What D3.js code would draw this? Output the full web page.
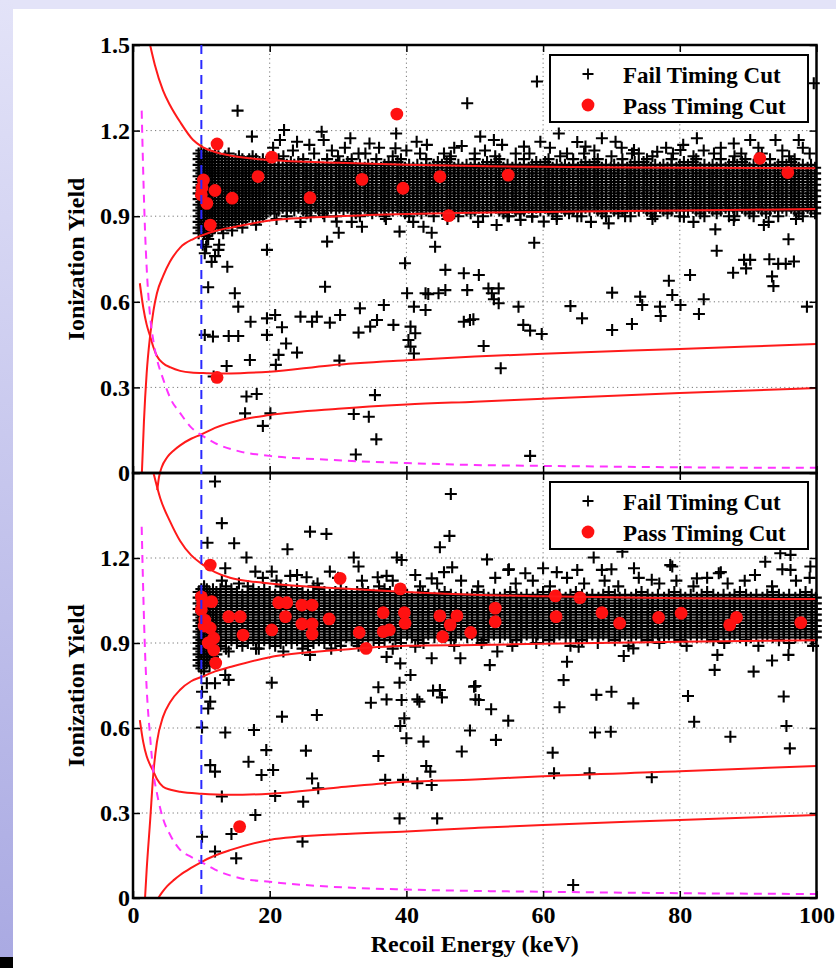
<!DOCTYPE html>
<html><head><meta charset="utf-8">
<script src="https://cdn.jsdelivr.net/npm/d3@7"></script>
<style>html,body{margin:0;padding:0;background:#fff;}svg{display:block}</style>
</head><body><svg id="c" width="836" height="968"></svg>
<script>
// ---------- DATA ----------
const xTicks = [0, 20, 40, 60, 80, 100];
const yTicksTop = [0, 0.3, 0.6, 0.9, 1.2, 1.5];
const yTicksBot = [0, 0.3, 0.6, 0.9, 1.2];
const legendLabels = ["Fail Timing Cut", "Pass Timing Cut"];
const xTitle = "Recoil Energy (keV)";
const yTitle = "Ionization Yield";
const cutEnergy = 10;

// band curves [energy keV, yield]
const erUpperTop = [[2.5,1.5],[3.2,1.43],[4.4,1.34],[5.4,1.29],[6.9,1.23],[8.8,1.167],[10,1.145],[12,1.125],[14.2,1.113],[17,1.103],[20,1.097],[30,1.087],[40,1.08],[50,1.076],[60,1.073],[80,1.07],[100,1.068]];
const erLowerTop = [[1.3,0],[1.6,0.18],[2,0.35],[2.5,0.48],[3,0.57],[3.5,0.63],[4.4,0.69],[5.4,0.74],[6.9,0.79],[8.8,0.82],[10,0.832],[12,0.848],[15,0.863],[20,0.885],[30,0.9],[40,0.908],[50,0.912],[60,0.915],[80,0.92],[100,0.925]];
const nrUpperTop = [[1.0,0.665],[1.5,0.58],[2,0.52],[2.5,0.48],[3,0.44],[3.5,0.41],[4.4,0.385],[5.5,0.37],[6.9,0.358],[8.5,0.352],[10.8,0.35],[13,0.349],[15.7,0.35],[20,0.355],[28.8,0.377],[40,0.395],[50,0.408],[60,0.418],[80,0.435],[100,0.452]];
const nrLowerTop = [[3.55,-0.06],[3.8,-0.015],[4.2,0.02],[5,0.055],[6,0.08],[6.9,0.097],[8.5,0.12],[10,0.135],[12,0.158],[15.7,0.186],[20,0.203],[30,0.225],[40,0.24],[50,0.25],[60,0.26],[80,0.28],[100,0.298]];
const magentaTop = [[1.27,1.27],[1.5,1.05],[1.76,0.85],[2,0.72],[2.5,0.55],[3,0.46],[3.5,0.4],[4.4,0.33],[5.5,0.26],[6.9,0.21],[8.5,0.16],[10,0.133],[12,0.105],[15.7,0.075],[20,0.06],[28.8,0.046],[40,0.035],[50,0.028],[60,0.025],[80,0.02],[100,0.018]];

const erUpperBot = [[3,1.5],[4,1.41],[5.4,1.33],[6.9,1.26],[8.5,1.21],[10,1.18],[12,1.15],[14.2,1.13],[17,1.118],[20,1.11],[30,1.093],[40,1.08],[50,1.07],[60,1.065],[80,1.058],[100,1.055]];
const erLowerBot = [[1.76,0],[2,0.1],[2.5,0.27],[3,0.446],[3.5,0.55],[4.4,0.64],[5.4,0.69],[6.9,0.735],[8.5,0.765],[10,0.78],[12,0.8],[14.2,0.815],[20,0.85],[30,0.875],[40,0.89],[50,0.893],[60,0.897],[80,0.904],[100,0.91]];
const nrUpperBot = [[1,0.628],[1.5,0.55],[2,0.5],[2.5,0.47],[3,0.446],[3.5,0.42],[4.4,0.393],[5.5,0.382],[6.9,0.375],[10,0.368],[14.2,0.364],[20,0.368],[30,0.39],[40,0.41],[50,0.418],[60,0.43],[80,0.447],[100,0.466]];
const nrLowerBot = [[3.7,0],[4.2,0.018],[5,0.042],[6,0.064],[6.9,0.081],[8.5,0.106],[10,0.127],[12,0.15],[14.2,0.169],[20,0.205],[30,0.225],[40,0.235],[50,0.247],[60,0.258],[80,0.275],[100,0.293]];
const magentaBot = [[1.27,1.31],[1.5,1.08],[1.76,0.87],[2,0.74],[2.5,0.57],[3,0.44],[3.5,0.37],[4.4,0.28],[5.5,0.22],[6.9,0.17],[8.5,0.145],[10,0.127],[12,0.1],[15.7,0.07],[20,0.057],[28.8,0.04],[40,0.03],[50,0.025],[60,0.022],[80,0.017],[100,0.014]];

// dense electron-recoil band (fail timing cut): [energy column, yields]
const topBand = [
[9.6,[0.84,0.86,0.88,0.9,0.92,0.94,0.96,0.98,1.0,1.02,1.04,1.06,1.08,1.1,1.12]],
[10.0,[0.85,0.87,0.89,0.91,0.93,0.95,0.97,0.99,1.01,1.03,1.05,1.07,1.09,1.11,1.13]],
[10.4,[0.84,0.86,0.88,0.9,0.92,0.94,0.96,0.98,1.0,1.02,1.04,1.06,1.08,1.1,1.12]],
[10.8,[0.83,0.85,0.87,0.89,0.91,0.93,0.95,0.97,0.99,1.01,1.03,1.05,1.07,1.09,1.11]],
[11.2,[0.84,0.86,0.88,0.9,0.92,0.94,0.96,0.98,1.0,1.02,1.04,1.06,1.08,1.1,1.12]],
[11.6,[0.85,0.87,0.89,0.91,0.93,0.95,0.97,0.99,1.01,1.03,1.05,1.07,1.09,1.11]],
[12.0,[0.86,0.88,0.9,0.92,0.94,0.96,0.98,1.0,1.02,1.04,1.06,1.08,1.1,1.12]],
[12.5,[0.87,0.89,0.91,0.93,0.95,0.97,0.99,1.01,1.03,1.05,1.07,1.09,1.11]],
[13.0,[0.86,0.88,0.9,0.92,0.94,0.96,0.98,1.0,1.02,1.04,1.06,1.08,1.1]],
[13.5,[0.87,0.89,0.91,0.93,0.95,0.97,0.99,1.01,1.03,1.05,1.07,1.09,1.11]],
[14.0,[0.88,0.9,0.92,0.94,0.96,0.98,1.0,1.02,1.04,1.06,1.08,1.1,1.12]],
[14.5,[0.87,0.89,0.91,0.93,0.95,0.97,0.99,1.01,1.03,1.05,1.07,1.09]],
[15.0,[0.88,0.9,0.92,0.94,0.96,0.98,1.0,1.02,1.04,1.06,1.08,1.1]],
[15.5,[0.89,0.91,0.93,0.95,0.97,0.99,1.01,1.03,1.05,1.07,1.09,1.11]],
[16.0,[0.88,0.9,0.92,0.94,0.96,0.98,1.0,1.02,1.04,1.06,1.08,1.1]],
[16.5,[0.89,0.91,0.93,0.95,0.97,0.99,1.01,1.03,1.05,1.07,1.09]],
[17.0,[0.9,0.92,0.94,0.96,0.98,1.0,1.02,1.04,1.06,1.08,1.1]],
[17.5,[0.89,0.91,0.93,0.95,0.97,0.99,1.01,1.03,1.05,1.07,1.09,1.11]],
[18.0,[0.9,0.92,0.94,0.96,0.98,1.0,1.02,1.04,1.06,1.08,1.1]],
[18.5,[0.89,0.91,0.93,0.95,0.97,0.99,1.01,1.03,1.05,1.07,1.09]],
[19.0,[0.9,0.92,0.94,0.96,0.98,1.0,1.02,1.04,1.06,1.08,1.1]],
[19.5,[0.91,0.93,0.95,0.97,0.99,1.01,1.03,1.05,1.07,1.09]],
[20.1,[0.92,0.94,0.96,0.98,1.0,1.02,1.04,1.06,1.08]],
[20.7,[0.91,0.93,0.95,0.97,0.99,1.01,1.03,1.05,1.07]],
[21.3,[0.92,0.94,0.96,0.98,1.0,1.02,1.04,1.06,1.08,1.1]],
[21.9,[0.93,0.95,0.97,0.99,1.01,1.03,1.05,1.07]],
[22.5,[0.9,0.92,0.94,0.96,0.98,1.0,1.02,1.04,1.06,1.08]],
[23.1,[0.93,0.95,0.97,0.99,1.01,1.03,1.05,1.07,1.09]],
[23.6,[0.92,0.94,0.96,0.98,1.0,1.02,1.04,1.06,1.08]],
[24.2,[0.93,0.95,0.97,0.99,1.01,1.03,1.05,1.07,1.09]],
[24.9,[0.92,0.94,0.96,0.98,1.0,1.02,1.04,1.06,1.08,1.1]],
[25.4,[0.91,0.93,0.95,0.97,0.99,1.01,1.03,1.05,1.07]],
[26.0,[0.9,0.92,0.94,0.96,0.98,1.0,1.02,1.04,1.06,1.08]],
[26.7,[0.93,0.95,0.97,0.99,1.01,1.03,1.05,1.07]],
[27.2,[0.92,0.94,0.96,0.98,1.0,1.02,1.04,1.06,1.08]],
[27.8,[0.91,0.93,0.95,0.97,0.99,1.01,1.03,1.05,1.07]],
[28.4,[0.92,0.94,0.96,0.98,1.0,1.02,1.04,1.06,1.08,1.1]],
[29.0,[0.93,0.95,0.97,0.99,1.01,1.03,1.05,1.07]],
[29.7,[0.9,0.92,0.94,0.96,0.98,1.0,1.02,1.04,1.06,1.08]],
[30.2,[0.93,0.95,0.97,0.99,1.01,1.03,1.05,1.07,1.09]],
[30.8,[0.92,0.94,0.96,0.98,1.0,1.02,1.04,1.06,1.08]],
[31.4,[0.93,0.95,0.97,0.99,1.01,1.03,1.05,1.07,1.09]],
[32.0,[0.92,0.94,0.96,0.98,1.0,1.02,1.04,1.06,1.08,1.1]],
[32.6,[0.91,0.93,0.95,0.97,0.99,1.01,1.03,1.05,1.07]],
[33.2,[0.9,0.92,0.94,0.96,0.98,1.0,1.02,1.04,1.06,1.08]],
[33.9,[0.93,0.95,0.97,0.99,1.01,1.03,1.05,1.07]],
[34.4,[0.92,0.94,0.96,0.98,1.0,1.02,1.04,1.06,1.08]],
[35.0,[0.91,0.93,0.95,0.97,0.99,1.01,1.03,1.05,1.07]],
[35.6,[0.92,0.94,0.96,0.98,1.0,1.02,1.04,1.06,1.08,1.1]],
[36.3,[0.93,0.95,0.97,0.99,1.01,1.03,1.05,1.07]],
[36.8,[0.9,0.92,0.94,0.96,0.98,1.0,1.02,1.04,1.06,1.08]],
[37.4,[0.93,0.95,0.97,0.99,1.01,1.03,1.05,1.07,1.09]],
[38.0,[0.92,0.94,0.96,0.98,1.0,1.02,1.04,1.06,1.08]],
[38.7,[0.93,0.95,0.97,0.99,1.01,1.03,1.05,1.07,1.09]],
[39.2,[0.92,0.94,0.96,0.98,1.0,1.02,1.04,1.06,1.08,1.1]],
[39.8,[0.91,0.93,0.95,0.97,0.99,1.01,1.03,1.05,1.07]],
[40.4,[0.9,0.92,0.94,0.96,0.98,1.0,1.02,1.04,1.06,1.08]],
[41.0,[0.93,0.95,0.97,0.99,1.01,1.03,1.05,1.07]],
[41.6,[0.92,0.94,0.96,0.98,1.0,1.02,1.04,1.06,1.08]],
[42.2,[0.91,0.93,0.95,0.97,0.99,1.01,1.03,1.05,1.07]],
[42.9,[0.92,0.94,0.96,0.98,1.0,1.02,1.04,1.06,1.08,1.1]],
[43.4,[0.93,0.95,0.97,0.99,1.01,1.03,1.05,1.07]],
[44.0,[0.9,0.92,0.94,0.96,0.98,1.0,1.02,1.04,1.06,1.08]],
[44.6,[0.93,0.95,0.97,0.99,1.01,1.03,1.05,1.07,1.09]],
[45.2,[0.92,0.94,0.96,0.98,1.0,1.02,1.04,1.06,1.08]],
[45.9,[0.93,0.95,0.97,0.99,1.01,1.03,1.05,1.07,1.09]],
[46.4,[0.92,0.94,0.96,0.98,1.0,1.02,1.04,1.06,1.08,1.1]],
[47.0,[0.91,0.93,0.95,0.97,0.99,1.01,1.03,1.05,1.07]],
[47.6,[0.9,0.92,0.94,0.96,0.98,1.0,1.02,1.04,1.06,1.08]],
[48.2,[0.93,0.95,0.97,0.99,1.01,1.03,1.05,1.07]],
[48.8,[0.92,0.94,0.96,0.98,1.0,1.02,1.04,1.06,1.08]],
[49.4,[0.91,0.93,0.95,0.97,0.99,1.01,1.03,1.05,1.07]],
[50.0,[0.92,0.94,0.96,0.98,1.0,1.02,1.04,1.06,1.08,1.1]],
[50.6,[0.93,0.95,0.97,0.99,1.01,1.03,1.05,1.07]],
[51.2,[0.9,0.92,0.94,0.96,0.98,1.0,1.02,1.04,1.06,1.08]],
[51.8,[0.93,0.95,0.97,0.99,1.01,1.03,1.05,1.07,1.09]],
[52.4,[0.92,0.94,0.96,0.98,1.0,1.02,1.04,1.06,1.08]],
[53.1,[0.93,0.95,0.97,0.99,1.01,1.03,1.05,1.07,1.09]],
[53.6,[0.92,0.94,0.96,0.98,1.0,1.02,1.04,1.06,1.08,1.1]],
[54.2,[0.91,0.93,0.95,0.97,0.99,1.01,1.03,1.05,1.07]],
[54.8,[0.9,0.92,0.94,0.96,0.98,1.0,1.02,1.04,1.06,1.08]],
[55.5,[0.93,0.95,0.97,0.99,1.01,1.03,1.05,1.07]],
[56.0,[0.92,0.94,0.96,0.98,1.0,1.02,1.04,1.06,1.08]],
[56.6,[0.91,0.93,0.95,0.97,0.99,1.01,1.03,1.05,1.07]],
[57.2,[0.92,0.94,0.96,0.98,1.0,1.02,1.04,1.06,1.08,1.1]],
[57.9,[0.93,0.95,0.97,0.99,1.01,1.03,1.05,1.07]],
[58.4,[0.9,0.92,0.94,0.96,0.98,1.0,1.02,1.04,1.06,1.08]],
[59.0,[0.93,0.95,0.97,0.99,1.01,1.03,1.05,1.07,1.09]],
[59.6,[0.92,0.94,0.96,0.98,1.0,1.02,1.04,1.06,1.08]],
[60.3,[0.93,0.95,0.97,0.99,1.01,1.03,1.05,1.07,1.09]],
[60.8,[0.92,0.94,0.96,0.98,1.0,1.02,1.04,1.06,1.08,1.1]],
[61.4,[0.91,0.93,0.95,0.97,0.99,1.01,1.03,1.05,1.07]],
[62.0,[0.9,0.92,0.94,0.96,0.98,1.0,1.02,1.04,1.06,1.08]],
[62.7,[0.93,0.95,0.97,0.99,1.01,1.03,1.05,1.07]],
[63.2,[0.92,0.94,0.96,0.98,1.0,1.02,1.04,1.06,1.08]],
[63.8,[0.91,0.93,0.95,0.97,0.99,1.01,1.03,1.05,1.07]],
[64.4,[0.92,0.94,0.96,0.98,1.0,1.02,1.04,1.06,1.08,1.1]],
[65.1,[0.93,0.95,0.97,0.99,1.01,1.03,1.05,1.07]],
[65.6,[0.9,0.92,0.94,0.96,0.98,1.0,1.02,1.04,1.06,1.08]],
[66.2,[0.93,0.95,0.97,0.99,1.01,1.03,1.05,1.07,1.09]],
[66.8,[0.92,0.94,0.96,0.98,1.0,1.02,1.04,1.06,1.08]],
[67.5,[0.93,0.95,0.97,0.99,1.01,1.03,1.05,1.07,1.09]],
[68.0,[0.92,0.94,0.96,0.98,1.0,1.02,1.04,1.06,1.08,1.1]],
[68.6,[0.91,0.93,0.95,0.97,0.99,1.01,1.03,1.05,1.07]],
[69.2,[0.9,0.92,0.94,0.96,0.98,1.0,1.02,1.04,1.06,1.08]],
[69.9,[0.93,0.95,0.97,0.99,1.01,1.03,1.05,1.07]],
[70.4,[0.92,0.94,0.96,0.98,1.0,1.02,1.04,1.06,1.08]],
[71.0,[0.91,0.93,0.95,0.97,0.99,1.01,1.03,1.05,1.07]],
[71.6,[0.92,0.94,0.96,0.98,1.0,1.02,1.04,1.06,1.08,1.1]],
[72.3,[0.93,0.95,0.97,0.99,1.01,1.03,1.05,1.07]],
[72.8,[0.9,0.92,0.94,0.96,0.98,1.0,1.02,1.04,1.06,1.08]],
[73.4,[0.93,0.95,0.97,0.99,1.01,1.03,1.05,1.07,1.09]],
[74.0,[0.92,0.94,0.96,0.98,1.0,1.02,1.04,1.06,1.08]],
[74.7,[0.93,0.95,0.97,0.99,1.01,1.03,1.05,1.07,1.09]],
[75.2,[0.92,0.94,0.96,0.98,1.0,1.02,1.04,1.06,1.08,1.1]],
[75.8,[0.91,0.93,0.95,0.97,0.99,1.01,1.03,1.05,1.07]],
[76.4,[0.9,0.92,0.94,0.96,0.98,1.0,1.02,1.04,1.06,1.08]],
[77.1,[0.93,0.95,0.97,0.99,1.01,1.03,1.05,1.07]],
[77.6,[0.92,0.94,0.96,0.98,1.0,1.02,1.04,1.06,1.08]],
[78.2,[0.91,0.93,0.95,0.97,0.99,1.01,1.03,1.05,1.07]],
[78.8,[0.92,0.94,0.96,0.98,1.0,1.02,1.04,1.06,1.08,1.1]],
[79.5,[0.93,0.95,0.97,0.99,1.01,1.03,1.05,1.07]],
[80.0,[0.9,0.92,0.94,0.96,0.98,1.0,1.02,1.04,1.06,1.08]],
[80.6,[0.93,0.95,0.97,0.99,1.01,1.03,1.05,1.07,1.09]],
[81.2,[0.92,0.94,0.96,0.98,1.0,1.02,1.04,1.06,1.08]],
[81.9,[0.93,0.95,0.97,0.99,1.01,1.03,1.05,1.07,1.09]],
[82.4,[0.92,0.94,0.96,0.98,1.0,1.02,1.04,1.06,1.08,1.1]],
[83.0,[0.91,0.93,0.95,0.97,0.99,1.01,1.03,1.05,1.07]],
[83.6,[0.9,0.92,0.94,0.96,0.98,1.0,1.02,1.04,1.06,1.08]],
[84.3,[0.93,0.95,0.97,0.99,1.01,1.03,1.05,1.07]],
[84.8,[0.92,0.94,0.96,0.98,1.0,1.02,1.04,1.06,1.08]],
[85.4,[0.91,0.93,0.95,0.97,0.99,1.01,1.03,1.05,1.07]],
[86.0,[0.92,0.94,0.96,0.98,1.0,1.02,1.04,1.06,1.08,1.1]],
[86.7,[0.93,0.95,0.97,0.99,1.01,1.03,1.05,1.07]],
[87.2,[0.9,0.92,0.94,0.96,0.98,1.0,1.02,1.04,1.06,1.08]],
[87.8,[0.93,0.95,0.97,0.99,1.01,1.03,1.05,1.07,1.09]],
[88.4,[0.92,0.94,0.96,0.98,1.0,1.02,1.04,1.06,1.08]],
[89.1,[0.93,0.95,0.97,0.99,1.01,1.03,1.05,1.07,1.09]],
[89.6,[0.92,0.94,0.96,0.98,1.0,1.02,1.04,1.06,1.08,1.1]],
[90.2,[0.91,0.93,0.95,0.97,0.99,1.01,1.03,1.05,1.07]],
[90.8,[0.9,0.92,0.94,0.96,0.98,1.0,1.02,1.04,1.06,1.08]],
[91.5,[0.93,0.95,0.97,0.99,1.01,1.03,1.05,1.07]],
[92.0,[0.92,0.94,0.96,0.98,1.0,1.02,1.04,1.06,1.08]],
[92.6,[0.91,0.93,0.95,0.97,0.99,1.01,1.03,1.05,1.07]],
[93.2,[0.92,0.94,0.96,0.98,1.0,1.02,1.04,1.06,1.08,1.1]],
[93.9,[0.93,0.95,0.97,0.99,1.01,1.03,1.05,1.07]],
[94.4,[0.9,0.92,0.94,0.96,0.98,1.0,1.02,1.04,1.06,1.08]],
[95.0,[0.93,0.95,0.97,0.99,1.01,1.03,1.05,1.07,1.09]],
[95.6,[0.92,0.94,0.96,0.98,1.0,1.02,1.04,1.06,1.08]],
[96.3,[0.93,0.95,0.97,0.99,1.01,1.03,1.05,1.07,1.09]],
[96.8,[0.92,0.94,0.96,0.98,1.0,1.02,1.04,1.06,1.08,1.1]],
[97.4,[0.91,0.93,0.95,0.97,0.99,1.01,1.03,1.05,1.07]],
[98.0,[0.9,0.92,0.94,0.96,0.98,1.0,1.02,1.04,1.06,1.08]],
[98.7,[0.93,0.95,0.97,0.99,1.01,1.03,1.05,1.07]],
[99.2,[0.92,0.94,0.96,0.98,1.0,1.02,1.04,1.06,1.08]],
[99.8,[0.91,0.93,0.95,0.97,0.99,1.01,1.03,1.05,1.07]]
];

const botBand = [
[9.6,[0.82,0.84,0.86,0.88,0.9,0.92,0.94,0.96,0.98,1.0,1.02,1.04,1.06,1.08]],
[10.0,[0.81,0.83,0.85,0.87,0.89,0.91,0.93,0.95,0.97,0.99,1.01,1.03,1.05,1.07,1.09]],
[10.4,[0.8,0.82,0.84,0.86,0.88,0.9,0.92,0.94,0.96,0.98,1.0,1.02,1.04,1.06,1.08,1.1]],
[10.8,[0.83,0.85,0.87,0.89,0.91,0.93,0.95,0.97,0.99,1.01,1.03,1.05,1.07,1.09]],
[11.2,[0.82,0.84,0.86,0.88,0.9,0.92,0.94,0.96,0.98,1.0,1.02,1.04,1.06,1.08]],
[11.7,[0.85,0.87,0.89,0.91,0.93,0.95,0.97,0.99,1.01,1.03,1.05,1.07,1.09]],
[12.2,[0.86,0.88,0.9,0.92,0.94,0.96,0.98,1.0,1.02,1.04,1.06,1.08]],
[12.8,[0.89,0.91,0.93,0.95,0.97,0.99,1.01,1.03,1.05,1.07,1.09]],
[13.6,[0.88,0.9,0.92,0.94,0.96,0.98,1.0,1.02,1.04,1.06,1.08,1.1]],
[14.4,[0.91,0.93,0.95,0.97,0.99,1.01,1.03,1.05,1.07,1.09]],
[15.2,[0.9,0.92,0.94,0.96,0.98,1.0,1.02,1.04,1.06,1.08]],
[16.0,[0.89,0.91,0.93,0.95,0.97,0.99,1.01,1.03,1.05,1.07]],
[16.8,[0.9,0.92,0.94,0.96,0.98,1.0,1.02,1.04,1.06,1.08,1.1]],
[17.6,[0.91,0.93,0.95,0.97,0.99,1.01,1.03,1.05,1.07,1.09]],
[18.4,[0.88,0.9,0.92,0.94,0.96,0.98,1.0,1.02,1.04,1.06,1.08]],
[19.2,[0.91,0.93,0.95,0.97,0.99,1.01,1.03,1.05,1.07,1.09]],
[20.0,[0.9,0.92,0.94,0.96,0.98,1.0,1.02,1.04,1.06,1.08]],
[20.8,[0.89,0.91,0.93,0.95,0.97,0.99,1.01,1.03,1.05,1.07]],
[21.6,[0.9,0.92,0.94,0.96,0.98,1.0,1.02,1.04,1.06,1.08,1.1]],
[22.4,[0.91,0.93,0.95,0.97,0.99,1.01,1.03,1.05,1.07,1.09]],
[23.2,[0.9,0.92,0.94,0.96,0.98,1.0,1.02,1.04,1.06,1.08]],
[24.0,[0.91,0.93,0.95,0.97,0.99,1.01,1.03,1.05,1.07,1.09]],
[24.8,[0.88,0.9,0.92,0.94,0.96,0.98,1.0,1.02,1.04,1.06,1.08]],
[25.6,[0.89,0.91,0.93,0.95,0.97,0.99,1.01,1.03,1.05,1.07]],
[26.4,[0.9,0.92,0.94,0.96,0.98,1.0,1.02,1.04,1.06,1.08,1.1]],
[27.2,[0.91,0.93,0.95,0.97,0.99,1.01,1.03,1.05,1.07,1.09]],
[28.0,[0.9,0.92,0.94,0.96,0.98,1.0,1.02,1.04,1.06,1.08]],
[28.8,[0.91,0.93,0.95,0.97,0.99,1.01,1.03,1.05,1.07]],
[29.6,[0.9,0.92,0.94,0.96,0.98,1.0,1.02,1.04,1.06,1.08]],
[30.4,[0.89,0.91,0.93,0.95,0.97,0.99,1.01,1.03,1.05,1.07,1.09]],
[31.2,[0.92,0.94,0.96,0.98,1.0,1.02,1.04,1.06,1.08]],
[32.0,[0.91,0.93,0.95,0.97,0.99,1.01,1.03,1.05,1.07]],
[32.8,[0.9,0.92,0.94,0.96,0.98,1.0,1.02,1.04,1.06,1.08]],
[33.6,[0.91,0.93,0.95,0.97,0.99,1.01,1.03,1.05,1.07,1.09]],
[34.4,[0.92,0.94,0.96,0.98,1.0,1.02,1.04,1.06,1.08]],
[35.2,[0.91,0.93,0.95,0.97,0.99,1.01,1.03,1.05,1.07]],
[36.0,[0.9,0.92,0.94,0.96,0.98,1.0,1.02,1.04,1.06,1.08]],
[36.8,[0.91,0.93,0.95,0.97,0.99,1.01,1.03,1.05,1.07,1.09]],
[37.6,[0.92,0.94,0.96,0.98,1.0,1.02,1.04,1.06,1.08]],
[38.4,[0.91,0.93,0.95,0.97,0.99,1.01,1.03,1.05,1.07]],
[39.2,[0.9,0.92,0.94,0.96,0.98,1.0,1.02,1.04,1.06,1.08]],
[40.1,[0.93,0.95,0.97,0.99,1.01,1.03,1.05,1.07]],
[40.8,[0.92,0.94,0.96,0.98,1.0,1.02,1.04,1.06]],
[41.7,[0.91,0.93,0.95,0.97,0.99,1.01,1.03,1.05,1.07]],
[42.4,[0.92,0.94,0.96,0.98,1.0,1.02,1.04,1.06,1.08]],
[43.2,[0.93,0.95,0.97,0.99,1.01,1.03,1.05,1.07]],
[44.1,[0.92,0.94,0.96,0.98,1.0,1.02,1.04,1.06]],
[44.8,[0.93,0.95,0.97,0.99,1.01,1.03,1.05,1.07]],
[45.6,[0.92,0.94,0.96,0.98,1.0,1.02,1.04,1.06,1.08]],
[46.5,[0.91,0.93,0.95,0.97,0.99,1.01,1.03,1.05,1.07]],
[47.2,[0.92,0.94,0.96,0.98,1.0,1.02,1.04,1.06]],
[48.0,[0.93,0.95,0.97,0.99,1.01,1.03,1.05,1.07]],
[48.9,[0.92,0.94,0.96,0.98,1.0,1.02,1.04,1.06]],
[49.6,[0.93,0.95,0.97,0.99,1.01,1.03,1.05,1.07]],
[50.4,[0.92,0.94,0.96,0.98,1.0,1.02,1.04,1.06,1.08]],
[51.3,[0.91,0.93,0.95,0.97,0.99,1.01,1.03,1.05,1.07]],
[52.0,[0.92,0.94,0.96,0.98,1.0,1.02,1.04,1.06]],
[52.8,[0.93,0.95,0.97,0.99,1.01,1.03,1.05,1.07]],
[53.7,[0.92,0.94,0.96,0.98,1.0,1.02,1.04,1.06]],
[54.4,[0.93,0.95,0.97,0.99,1.01,1.03,1.05,1.07]],
[55.2,[0.92,0.94,0.96,0.98,1.0,1.02,1.04,1.06,1.08]],
[56.1,[0.91,0.93,0.95,0.97,0.99,1.01,1.03,1.05,1.07]],
[56.8,[0.92,0.94,0.96,0.98,1.0,1.02,1.04,1.06]],
[57.6,[0.93,0.95,0.97,0.99,1.01,1.03,1.05,1.07]],
[58.5,[0.92,0.94,0.96,0.98,1.0,1.02,1.04,1.06]],
[59.2,[0.93,0.95,0.97,0.99,1.01,1.03,1.05,1.07]],
[60.0,[0.92,0.94,0.96,0.98,1.0,1.02,1.04,1.06,1.08]],
[60.9,[0.91,0.93,0.95,0.97,0.99,1.01,1.03,1.05,1.07]],
[61.6,[0.92,0.94,0.96,0.98,1.0,1.02,1.04,1.06]],
[62.4,[0.93,0.95,0.97,0.99,1.01,1.03,1.05,1.07]],
[63.3,[0.92,0.94,0.96,0.98,1.0,1.02,1.04,1.06]],
[64.0,[0.93,0.95,0.97,0.99,1.01,1.03,1.05,1.07]],
[64.8,[0.92,0.94,0.96,0.98,1.0,1.02,1.04,1.06,1.08]],
[65.7,[0.91,0.93,0.95,0.97,0.99,1.01,1.03,1.05,1.07]],
[66.4,[0.92,0.94,0.96,0.98,1.0,1.02,1.04,1.06]],
[67.2,[0.93,0.95,0.97,0.99,1.01,1.03,1.05,1.07]],
[68.1,[0.92,0.94,0.96,0.98,1.0,1.02,1.04,1.06]],
[68.8,[0.93,0.95,0.97,0.99,1.01,1.03,1.05,1.07]],
[69.6,[0.92,0.94,0.96,0.98,1.0,1.02,1.04,1.06,1.08]],
[70.5,[0.91,0.93,0.95,0.97,0.99,1.01,1.03,1.05,1.07]],
[71.2,[0.92,0.94,0.96,0.98,1.0,1.02,1.04,1.06]],
[72.0,[0.93,0.95,0.97,0.99,1.01,1.03,1.05,1.07]],
[72.9,[0.92,0.94,0.96,0.98,1.0,1.02,1.04,1.06]],
[73.6,[0.93,0.95,0.97,0.99,1.01,1.03,1.05,1.07]],
[74.4,[0.92,0.94,0.96,0.98,1.0,1.02,1.04,1.06,1.08]],
[75.3,[0.91,0.93,0.95,0.97,0.99,1.01,1.03,1.05,1.07]],
[76.0,[0.92,0.94,0.96,0.98,1.0,1.02,1.04,1.06]],
[76.8,[0.93,0.95,0.97,0.99,1.01,1.03,1.05,1.07]],
[77.7,[0.92,0.94,0.96,0.98,1.0,1.02,1.04,1.06]],
[78.4,[0.93,0.95,0.97,0.99,1.01,1.03,1.05,1.07]],
[79.2,[0.92,0.94,0.96,0.98,1.0,1.02,1.04,1.06,1.08]],
[80.1,[0.91,0.93,0.95,0.97,0.99,1.01,1.03,1.05,1.07]],
[80.8,[0.92,0.94,0.96,0.98,1.0,1.02,1.04,1.06]],
[81.6,[0.93,0.95,0.97,0.99,1.01,1.03,1.05,1.07]],
[82.5,[0.92,0.94,0.96,0.98,1.0,1.02,1.04,1.06]],
[83.2,[0.93,0.95,0.97,0.99,1.01,1.03,1.05,1.07]],
[84.0,[0.92,0.94,0.96,0.98,1.0,1.02,1.04,1.06,1.08]],
[84.9,[0.91,0.93,0.95,0.97,0.99,1.01,1.03,1.05,1.07]],
[85.6,[0.92,0.94,0.96,0.98,1.0,1.02,1.04,1.06]],
[86.4,[0.93,0.95,0.97,0.99,1.01,1.03,1.05,1.07]],
[87.3,[0.92,0.94,0.96,0.98,1.0,1.02,1.04,1.06]],
[88.0,[0.93,0.95,0.97,0.99,1.01,1.03,1.05,1.07]],
[88.8,[0.92,0.94,0.96,0.98,1.0,1.02,1.04,1.06,1.08]],
[89.7,[0.91,0.93,0.95,0.97,0.99,1.01,1.03,1.05,1.07]],
[90.4,[0.92,0.94,0.96,0.98,1.0,1.02,1.04,1.06]],
[91.2,[0.93,0.95,0.97,0.99,1.01,1.03,1.05,1.07]],
[92.1,[0.92,0.94,0.96,0.98,1.0,1.02,1.04,1.06]],
[92.8,[0.93,0.95,0.97,0.99,1.01,1.03,1.05,1.07]],
[93.6,[0.92,0.94,0.96,0.98,1.0,1.02,1.04,1.06,1.08]],
[94.5,[0.91,0.93,0.95,0.97,0.99,1.01,1.03,1.05,1.07]],
[95.2,[0.92,0.94,0.96,0.98,1.0,1.02,1.04,1.06]],
[96.0,[0.93,0.95,0.97,0.99,1.01,1.03,1.05,1.07]],
[96.9,[0.92,0.94,0.96,0.98,1.0,1.02,1.04,1.06]],
[97.6,[0.93,0.95,0.97,0.99,1.01,1.03,1.05,1.07]],
[98.4,[0.92,0.94,0.96,0.98,1.0,1.02,1.04,1.06,1.08]],
[99.3,[0.91,0.93,0.95,0.97,0.99,1.01,1.03,1.05,1.07]],
[99.9,[0.92,0.94,0.96,0.98,1.0,1.02,1.04,1.06]]
];

// isolated fail-timing events [energy, yield]
const topSparse = [
[15.3,1.27],[48.9,1.296],[22.1,1.202],[17.4,1.179],[27.6,1.196],[27.9,1.167],[24,1.161],[31.8,1.173],[38.5,1.19],[38.4,1.138],[41.5,1.161],[48.1,1.146],[34.6,1.155],[21.5,1.167],
[59.1,1.372],[99.6,1.366],[62.3,1.19],[50.8,1.179],[52.8,1.167],[59.6,1.161],[68.6,1.173],[70.6,1.161],[82.5,1.173],[90.3,1.167],[94,1.167],[97.4,1.167],[87.9,1.155],[57.2,1.144],[66.2,1.144],[73.3,1.132],[76.7,1.126],[80.1,1.132],
[20.5,1.14],[23.4,1.13],[25.8,1.15],[29.1,1.13],[31,1.14],[33,1.12],[36,1.14],[40,1.13],[43,1.15],[45.5,1.12],[47,1.14],[51.5,1.13],[54,1.15],[56,1.12],[61,1.14],[63.5,1.12],[65,1.16],[67.5,1.13],[71.5,1.14],[74,1.12],[78,1.14],[80.5,1.15],[83.5,1.13],[86,1.14],[89,1.12],[91.5,1.14],[95,1.13],[98,1.14],[99,1.12],
[22,1.11],[26.5,1.12],[30,1.11],[34,1.12],[38,1.11],[42,1.12],[46.5,1.11],[50,1.12],[53,1.11],[58,1.12],[62.5,1.11],[66,1.12],[70,1.11],[73,1.12],[76,1.11],[79,1.12],[82,1.11],[85,1.12],[88,1.11],[92,1.12],[96,1.11],
[21,0.89],[24.5,0.88],[28,0.9],[32,0.88],[37,0.89],[41,0.88],[46,0.89],[50.5,0.88],[55,0.9],[62,0.89],[67,0.88],[72,0.9],[76,0.89],[82,0.88],[88,0.9],[93,0.88],[97,0.89],
[10.2,0.8],[11,0.82],[12.6,0.8],[13.2,0.84],[10.5,0.77],[12,0.76],[14.5,0.85],[16,0.86],[18,0.87],[11.5,0.74],
[19.6,0.782],[28.4,0.811],[29.8,0.881],[30.1,0.842],[33.5,0.863],[39,0.846],[42.5,0.863],[43.7,0.842],[44.2,0.793],[39.8,0.735],[45.7,0.712],[48.4,0.7],[48.9,0.641],[45.7,0.641],[44.7,0.63],[43.2,0.627],[42.8,0.63],[40.1,0.63],[41.1,0.583],[42.8,0.571],[36.7,0.589],[33.2,0.577],[35.7,0.536],[34.7,0.513],[33,0.492],[38.1,0.519],[40.6,0.513],[41.3,0.49],[40.3,0.466],[40.6,0.443],[41.1,0.419],[48.4,0.53],[49.3,0.536],[30.3,0.554],[28.8,0.527],[26.9,0.548],[26.2,0.53],[24.5,0.548],[28.1,0.653],[21.8,0.511],[20.8,0.554],[19.6,0.542],[17.2,0.53],[19.6,0.484],[15.4,0.583],[14.9,0.63],[11,0.651],[13.8,0.723],[12.5,0.782],[10.7,0.793],[11.7,0.478],[10.5,0.484],[14,0.48],[15.4,0.48],[22.4,0.454],[24,0.422],[21.3,0.414],[17.1,0.396],[20.9,0.379],[30.2,0.394],[13.7,0.375],[11.8,0.338],[16.6,0.268],[18.1,0.277],[16.4,0.209],[20.1,0.209],[19,0.165],[35.4,0.273],[32.3,0.207],[34.5,0.197],[35.6,0.118],[32.6,0.065],
[53.2,0.869],[56.7,0.887],[58.4,0.898],[60.1,0.881],[58.7,0.807],[69.6,0.875],[65,0.9],[80.6,0.898],[85.2,0.854],[85.4,0.779],[87.9,0.887],[92.3,0.869],[95.9,0.819],[89.4,0.747],[90.3,0.747],[89.7,0.717],[87.8,0.702],[93.1,0.749],[94.4,0.733],[95.5,0.733],[96.7,0.741],[93.5,0.689],[93.7,0.655],[98.6,0.583],[81.5,0.694],[78.4,0.674],[78.9,0.624],[77.1,0.583],[77.2,0.55],[80.1,0.589],[83.5,0.609],[82.8,0.557],[74.2,0.618],[74.5,0.589],[70.1,0.632],[73,0.522],[70.1,0.501],[65.7,0.542],[64,0.585],[59.8,0.487],[57.1,0.519],[58.1,0.499],[56.4,0.583],[53.5,0.595],[52.5,0.63],[53.5,0.647],[52.8,0.609],[52,0.647],[50.6,0.694],[49.8,0.539],[51.3,0.445],[53.8,0.367],[58.1,0.06]
];

const botSparse = [
[12,1.47],[13,1.323],[10.9,1.254],[14.8,1.252],[22.6,1.231],[25.9,1.293],[28.3,1.285],[46.5,1.426],[46.3,1.278],[44.9,1.238],[46.7,1.167],[16.6,1.202],[32.3,1.202],[33,1.17],[38.6,1.202],[39.3,1.193],[13.5,1.164],[17.9,1.152],[20.3,1.152],[23,1.137],[25.4,1.132],[28.8,1.152],[35.8,1.132],[37.1,1.137],[41.3,1.14],[43.7,1.128],
[51.8,1.195],[54.9,1.158],[57.4,1.146],[60,1.164],[65,1.158],[67.4,1.202],[68.6,1.158],[71.6,1.222],[73.3,1.164],[78.6,1.175],[78.9,1.17],[85.7,1.146],[92.5,1.187],[94.7,1.217],[96.2,1.211],[99.1,1.17],[96.2,1.158],[75.9,1.123],[82.5,1.128],
[13,1.12],[15.5,1.11],[19,1.13],[21,1.12],[24,1.14],[27,1.11],[30,1.13],[33.5,1.12],[36,1.1],[38,1.12],[42,1.1],[44.5,1.11],[48,1.12],[50.5,1.1],[53,1.13],[56,1.11],[58.5,1.12],[61,1.1],[63.5,1.13],[66,1.11],[69,1.12],[71,1.1],[74,1.13],[77,1.11],[79.5,1.12],[82,1.1],[84,1.13],[87,1.11],[89.5,1.12],[91,1.14],[93.5,1.1],[97,1.12],[99,1.13],[45.5,1.15],[55,1.16],[62,1.15],[70,1.16],[86,1.15],[95,1.16],
[14,0.87],[18,0.88],[22,0.87],[29,0.88],[33,0.89],[38,0.88],[42.5,0.9],[47,0.89],[51,0.9],[55.5,0.89],[59,0.9],[64,0.89],[68,0.9],[72.5,0.89],[77,0.9],[81,0.89],[86.5,0.9],[91.5,0.89],[96,0.9],[99.5,0.89],
[25.9,0.858],[12,0.828],[13.5,0.787],[10.8,0.758],[12,0.758],[14,0.77],[10.1,0.728],[11.3,0.693],[11,0.669],[10.1,0.602],[13.5,0.584],[17.7,0.593],[21.8,0.64],[26.9,0.646],[20.3,0.76],[19.5,0.522],[25.3,0.52],[16.9,0.481],[11.3,0.469],[12,0.446],[18.8,0.434],[20.5,0.452],[26.2,0.422],[27.1,0.387],[13,0.358],[20.8,0.36],[24.9,0.34],[17.9,0.293],[14.4,0.226],[10.1,0.216],[12,0.164],[15.1,0.14],[24.8,0.199],[39,0.281],[44.5,0.281],[43.7,0.399],[43.5,0.446],[42.9,0.466],[41.6,0.405],[39.5,0.417],[36.9,0.417],[35.9,0.501],[42.5,0.552],[40,0.564],[39.1,0.607],[39.7,0.634],[48.1,0.517],[49.3,0.591],[50.1,0.701],[49.9,0.746],[44.9,0.734],[43.9,0.732],[45.2,0.708],[41.6,0.701],[41.9,0.693],[39.3,0.699],[39,0.76],[40.6,0.787],[39.1,0.828],[35.9,0.744],[37.1,0.701],[34.8,0.689],[37.1,0.851],[43.7,0.846],[47.9,0.846],[41.3,0.887],
[53.3,0.87],[52.2,0.822],[63.5,0.834],[63,0.769],[65.2,0.887],[71.8,0.854],[73.2,0.881],[85.5,0.858],[85.1,0.805],[90.8,0.799],[93.5,0.838],[95.9,0.858],[50.1,0.748],[50.6,0.699],[52.4,0.666],[54.9,0.626],[53.1,0.558],[62.4,0.673],[67.8,0.717],[70,0.728],[73.2,0.687],[81.2,0.713],[82.1,0.622],[67.6,0.584],[69.9,0.587],[87.4,0.569],[95.2,0.711],[95.6,0.607],[96.1,0.528],[61.4,0.513],[61.6,0.44],[66.8,0.44],[75.9,0.426],[64.4,0.046]
];

// pass-timing events [energy, yield]
const topPass = [[12.3,1.153],[20.3,1.107],[38.6,1.258],[18.3,1.039],[33.5,1.029],[44.9,1.039],[39.5,0.998],[25.9,0.965],[14.5,0.963],[46.2,0.902],[10.3,1.027],[12,0.99],[10,0.975],[10.8,0.945],[11.3,0.869],[12.3,0.335],[54.9,1.044],[91.7,1.103],[95.8,1.053],[10.1,1.0]];
const botPass = [[11.3,1.175],[30.3,1.128],[39.1,1.091],[21.3,1.042],[22.5,1.042],[24.7,1.034],[26.2,1.034],[11.5,1.046],[10,1.063],[14,0.993],[15.7,0.993],[22.3,0.993],[24.7,0.967],[26.2,0.967],[26.2,0.932],[28.7,0.985],[20.3,0.946],[16.1,0.928],[33.1,0.937],[34.1,0.881],[36.6,1.007],[36.6,0.94],[37.5,0.946],[39.7,1.007],[39.8,0.97],[44.9,0.996],[47.4,0.996],[46.4,0.964],[45.3,0.922],[49.4,0.937],[12.1,0.829],[11.8,0.875],[11.8,0.917],[11.3,0.953],[10.5,0.981],[10,1.017],[15.6,0.252],[61.8,1.066],[65.4,1.06],[53,1.023],[53,0.975],[61.9,0.993],[68.6,1.007],[71.2,0.97],[76.9,0.99],[80.2,1.005],[88.3,0.99],[87.3,0.964],[97.7,0.972],[10.2,1.04],[10.4,0.96],[11,0.9]];

// ---------- DRAW ----------
const W = 836, H = 968;
const svg = d3.select("#c");
const FONT = "'Liberation Serif','Times New Roman',serif";
const defs = svg.append("defs");
const lg = defs.append("linearGradient").attr("id","side").attr("x1",0).attr("y1",0).attr("x2",0).attr("y2",1);
lg.append("stop").attr("offset","0%").attr("stop-color","#e3e3f8");
lg.append("stop").attr("offset","100%").attr("stop-color","#a9a9e2");
svg.append("rect").attr("width",W).attr("height",H).attr("fill","#e3e3f8");
svg.append("rect").attr("width",13).attr("height",H).attr("fill","url(#side)");
svg.append("rect").attr("x",13).attr("y",9).attr("width",W-13).attr("height",H-9).attr("fill","#fff");
svg.append("rect").attr("x",0).attr("y",957).attr("width",13).attr("height",11).attr("fill","#000");

const x = d3.scaleLinear().domain([0,100]).range([133,816.5]);
const panels = [
  {y:d3.scaleLinear().domain([0,1.5]).range([473,45]), band:topBand, sparse:topSparse, pass:topPass,
   curves:[erUpperTop,erLowerTop,nrUpperTop,nrLowerTop], magenta:magentaTop, yTicks:yTicksTop, xLabels:false, legTop:55},
  {y:d3.scaleLinear().domain([0,1.5]).range([898,473]), band:botBand, sparse:botSparse, pass:botPass,
   curves:[erUpperBot,erLowerBot,nrUpperBot,nrLowerBot], magenta:magentaBot, yTicks:yTicksBot, xLabels:true, legTop:482}
];
const plusPath = "M-6,0H6M0,-6V6";
const plusW = 2.1;
const fmtY = d => d === 0 ? "0" : d3.format(".1f")(d);

function styleAxis(g){
  g.select(".domain").remove();
  g.selectAll(".tick line").attr("stroke","#000").attr("stroke-width",1.5);
  g.selectAll(".tick text").attr("font-family",FONT).attr("font-weight","bold").attr("font-size",24).attr("fill","#000");
}

panels.forEach(p => {
  const y = p.y;
  const y0 = y(0), y1 = y(1.5);
  const g = svg.append("g");
  // grid
  g.selectAll(".gx").data(xTicks.slice(1,-1)).join("line")
    .attr("x1",d=>x(d)).attr("x2",d=>x(d)).attr("y1",y1).attr("y2",y0)
    .attr("stroke","#777").attr("stroke-width",1).attr("stroke-dasharray","1.2,3.2");
  g.selectAll(".gy").data([0.3,0.6,0.9,1.2]).join("line")
    .attr("x1",x(0)).attr("x2",x(100)).attr("y1",d=>y(d)).attr("y2",d=>y(d))
    .attr("stroke","#777").attr("stroke-width",1).attr("stroke-dasharray","1.2,3.2");
  // fail points
  const fails = p.band.flatMap(([e,vs]) => vs.map(v => [e,v])).concat(p.sparse);
  g.append("g").selectAll("path").data(fails).join("path")
    .attr("d",plusPath).attr("transform",d=>`translate(${x(d[0])},${y(d[1])})`)
    .attr("stroke","#000").attr("stroke-width",plusW).attr("fill","none");
  // pass points
  g.append("g").selectAll("circle").data(p.pass).join("circle")
    .attr("cx",d=>x(d[0])).attr("cy",d=>y(d[1])).attr("r",6.4).attr("fill","#ff1111");
  // curves
  const line = d3.line().x(d=>x(d[0])).y(d=>y(d[1])).curve(d3.curveMonotoneX);
  g.selectAll(".cv").data(p.curves).join("path").attr("d",line)
    .attr("fill","none").attr("stroke","#ff1a1a").attr("stroke-width",2);
  g.append("path").attr("d",line(p.magenta)).attr("fill","none").attr("stroke","#ff33ff")
    .attr("stroke-width",2).attr("stroke-dasharray","8,6");
  // axes
  g.append("g").attr("transform",`translate(${x(0)},0)`).call(d3.axisLeft(y).tickValues(p.yTicks).tickSize(-7).tickPadding(3).tickFormat(fmtY)).call(styleAxis);
  g.append("g").attr("transform",`translate(${x(100)},0)`).call(d3.axisRight(y).tickValues(p.yTicks).tickSize(-7).tickFormat("")).call(styleAxis);
  g.append("g").attr("transform",`translate(0,${y0})`).call(d3.axisBottom(x).tickValues(xTicks).tickSize(-7).tickPadding(8).tickFormat(p.xLabels ? d3.format("d") : "")).call(styleAxis);
  g.append("g").attr("transform",`translate(0,${y1})`).call(d3.axisTop(x).tickValues(xTicks).tickSize(-7).tickFormat("")).call(styleAxis);
  // frame
  g.append("rect").attr("x",x(0)).attr("y",y1).attr("width",x(100)-x(0)).attr("height",y0-y1)
    .attr("fill","none").attr("stroke","#000").attr("stroke-width",2.5);
  // y title
  g.append("text").attr("transform",`translate(84,${(y0+y1)/2}) rotate(-90)`).attr("text-anchor","middle")
    .attr("font-family",FONT).attr("font-weight","bold").attr("font-size",24).text(yTitle);
  // legend
  const lx = 550, lt = p.legTop;
  const lgd = g.append("g");
  lgd.append("rect").attr("x",lx).attr("y",lt).attr("width",258).attr("height",67)
    .attr("fill","#fff").attr("stroke","#000").attr("stroke-width",2);
  lgd.append("path").attr("d","M-5.5,0H5.5M0,-5.5V5.5").attr("transform",`translate(588,${lt+19})`).attr("stroke","#000").attr("stroke-width",1.8);
  lgd.append("circle").attr("cx",588).attr("cy",lt+50).attr("r",6.4).attr("fill","#ff1111");
  lgd.selectAll("text").data(legendLabels).join("text")
    .attr("x",623).attr("y",(d,i)=>lt+28+i*31)
    .attr("font-family",FONT).attr("font-weight","bold").attr("font-size",23).text(d=>d);
});
// energy threshold line
svg.append("line").attr("x1",x(cutEnergy)).attr("x2",x(cutEnergy)).attr("y1",45).attr("y2",898)
  .attr("stroke","#2a2aff").attr("stroke-width",2).attr("stroke-dasharray","9,6");
// x title
svg.append("text").attr("x",(x(0)+x(100))/2).attr("y",952).attr("text-anchor","middle")
  .attr("font-family",FONT).attr("font-weight","bold").attr("font-size",24).text(xTitle);
</script></body></html>
